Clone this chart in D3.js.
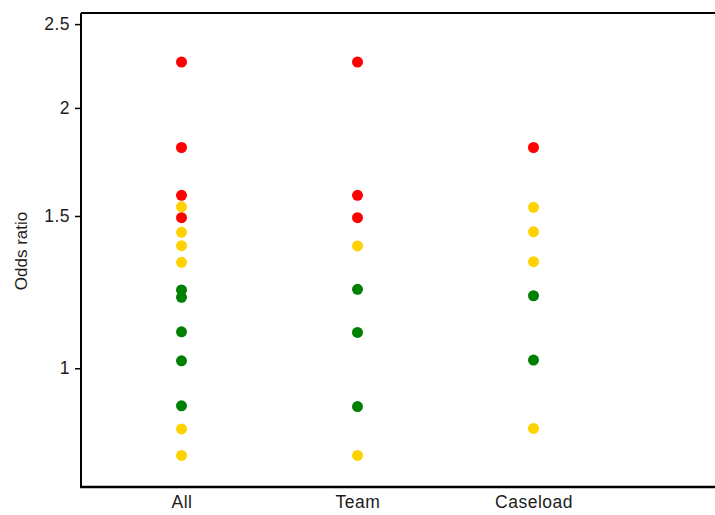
<!DOCTYPE html>
<html>
<head>
<meta charset="utf-8">
<script src="https://cdn.jsdelivr.net/npm/d3@7"></script>
<style>
  body { margin: 0; background: #fff; }
  svg text { font-family: Arial, "Liberation Sans", sans-serif; fill: #1c1c1c; }
</style>
</head>
<body>
<div id="chart"></div>
<script>
const W = 715, H = 515;

const categories = ["All", "Team", "Caseload"];
const yTicks = [1, 1.5, 2, 2.5];

// odds ratios per group, with colour code per point (r = red, y = yellow, g = green)
const allValues = [2.26, 1.80, 1.585, 1.537, 1.493, 1.436, 1.386, 1.326, 1.232, 1.208, 1.102, 1.020, 0.905, 0.851, 0.793];
const allLevels = ["r", "r", "r", "y", "r", "y", "y", "y", "g", "g", "g", "g", "g", "y", "y"];
const teamValues = [2.26, 1.585, 1.493, 1.385, 1.234, 1.100, 0.903, 0.793];
const teamLevels = ["r", "r", "r", "y", "g", "g", "g", "y"];
const caseloadValues = [1.80, 1.535, 1.438, 1.328, 1.213, 1.022, 0.852];
const caseloadLevels = ["r", "y", "y", "y", "g", "g", "y"];

const levelColour = { r: "#ff0000", y: "#ffd200", g: "#008000" };

const groups = [
    { name: "All", values: allValues, levels: allLevels },
    { name: "Team", values: teamValues, levels: teamLevels },
    { name: "Caseload", values: caseloadValues, levels: caseloadLevels },
];

const points = groups.flatMap((g) =>
    g.values.map((v, i) => ({ cat: g.name, value: v, level: g.levels[i] }))
);

const m = { left: 81, top: 13, bottom: 487 };

const svg = d3.select("#chart").append("svg")
    .attr("width", W)
    .attr("height", H);

const y = d3.scaleLog().domain([0.729, 2.575]).range([m.bottom, m.top]);
const x = d3.scalePoint().domain(categories).range([181.5, 533.5]);

// frame: left, top and bottom lines (plot runs past right edge)
svg.append("line")
    .attr("x1", m.left).attr("x2", m.left)
    .attr("y1", m.top).attr("y2", m.bottom)
    .attr("stroke", "#000").attr("stroke-width", 2);
svg.append("line")
    .attr("x1", m.left).attr("x2", W)
    .attr("y1", m.top).attr("y2", m.top)
    .attr("stroke", "#000").attr("stroke-width", 2);
svg.append("line")
    .attr("x1", m.left - 1).attr("x2", W)
    .attr("y1", m.bottom).attr("y2", m.bottom)
    .attr("stroke", "#000").attr("stroke-width", 2.5);

const yAxis = svg.append("g")
    .attr("transform", `translate(${m.left},0)`)
    .call(d3.axisLeft(y).tickValues(yTicks).tickFormat(d3.format("")).tickSize(6).tickPadding(5));
yAxis.select(".domain").remove();
yAxis.selectAll(".tick line").attr("stroke", "#000").attr("stroke-width", 1.5);
yAxis.selectAll(".tick text")
    .style("font-size", "17.5px")
    .style("letter-spacing", "0.5px");

const xAxis = svg.append("g")
    .attr("transform", `translate(0,${m.bottom})`)
    .call(d3.axisBottom(x).tickSize(0).tickPadding(9));
xAxis.select(".domain").remove();
xAxis.selectAll(".tick text")
    .style("font-size", "17.5px")
    .style("letter-spacing", "0.5px");

svg.append("text")
    .attr("transform", `translate(27,${(m.top + m.bottom) / 2 + 1}) rotate(-90)`)
    .attr("text-anchor", "middle")
    .style("font-size", "17px")
    .text("Odds ratio");

svg.append("g")
    .selectAll("circle")
    .data(points)
    .enter()
    .append("circle")
    .attr("cx", (d) => x(d.cat))
    .attr("cy", (d) => y(d.value))
    .attr("r", 5.5)
    .attr("fill", (d) => levelColour[d.level]);
</script>
</body>
</html>
